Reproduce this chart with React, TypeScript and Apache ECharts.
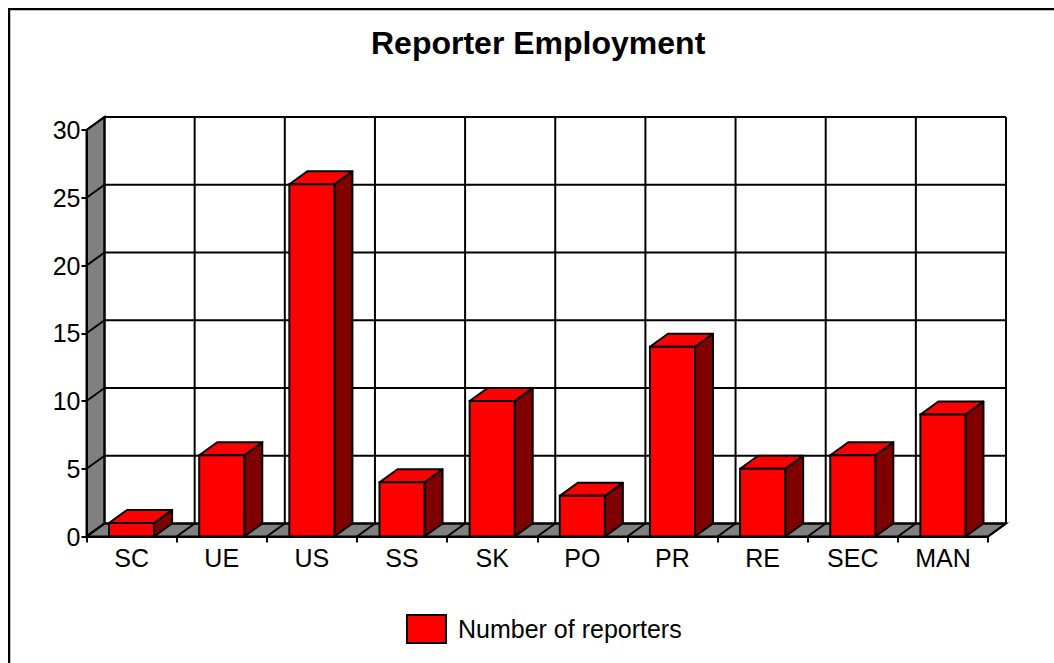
import React, { useEffect, useRef } from "react";
import * as echarts from "echarts";

const titleText = "Reporter Employment";
const seriesName = "Number of reporters";
const categories = ["SC", "UE", "US", "SS", "SK", "PO", "PR", "RE", "SEC", "MAN"];
const reporters = [1, 6, 26, 4, 10, 3, 14, 5, 6, 9];
const yTicks = [0, 5, 10, 15, 20, 25, 30];
const boundaries = [0, 1, 2, 3, 4, 5, 6, 7, 8, 9, 10];

const DX = 18;
const DY = -13;
const FONT = "'Liberation Sans', Arial, Helvetica, sans-serif";
const LW = 2;

export default function App() {
  const ref = useRef<HTMLDivElement>(null);

  useEffect(() => {
    if (!ref.current) return;
    const chart = echarts.init(ref.current, undefined, { renderer: "svg" });
    const yMax = yTicks[yTicks.length - 1];

    const frame = (api: any) => {
      const band = api.size([1, 0])[0];
      const x0 = api.coord([0, 0])[0] - band / 2;
      const x1 = x0 + band * categories.length;
      const yBot = api.coord([0, 0])[1];
      const yTop = api.coord([0, yMax])[1];
      return { band, x0, x1, yBot, yTop };
    };

    const option: any = {
      animation: false,
      backgroundColor: "#fff",
      title: {
        text: titleText,
        left: 363,
        top: 19,
        padding: 0,
        textStyle: { fontFamily: FONT, fontSize: 32, fontWeight: "bold", color: "#000" },
      },
      legend: {
        data: [seriesName],
        left: 398,
        top: 606,
        padding: 0,
        itemWidth: 39,
        itemHeight: 28,
        icon: "rect",
        itemStyle: { color: "#FF0000", borderColor: "#000", borderWidth: LW },
        textStyle: { fontFamily: FONT, fontSize: 25, color: "#000", padding: [0, 0, 0, 7] },
      },
      grid: { left: 78.5, top: 122, width: 901.5, height: 406.5, containLabel: false },
      xAxis: {
        type: "category",
        data: categories,
        boundaryGap: true,
        z: 10,
        axisLine: { show: true, lineStyle: { color: "#000", width: LW } },
        axisTick: { show: true, length: 6, lineStyle: { color: "#000", width: LW } },
        axisLabel: { fontFamily: FONT, fontSize: 25, color: "#000", margin: 9 },
        splitLine: { show: false },
      },
      yAxis: {
        type: "value",
        min: 0,
        max: yMax,
        interval: 5,
        z: 10,
        axisLine: { show: true, lineStyle: { color: "#000", width: LW } },
        axisTick: { show: true, length: 5, lineStyle: { color: "#000", width: LW } },
        axisLabel: { fontFamily: FONT, fontSize: 25, color: "#000", margin: 6 },
        splitLine: { show: false },
      },
      graphic: [
        { type: "line", shape: { x1: 1, y1: 0, x2: 1, y2: 655 }, style: { stroke: "#000", lineWidth: 2.5 } },
        { type: "line", shape: { x1: 0, y1: 1, x2: 1046, y2: 1 }, style: { stroke: "#000", lineWidth: 2.5 } },
      ],
      series: [
        {
          type: "custom",
          name: "walls",
          z: 1,
          silent: true,
          data: [[0, 0]],
          renderItem: (params: any, api: any) => {
            const f = frame(api);
            return {
              type: "group",
              children: [
                {
                  type: "polygon",
                  shape: {
                    points: [
                      [f.x0, f.yBot],
                      [f.x0, f.yTop],
                      [f.x0 + DX, f.yTop + DY],
                      [f.x0 + DX, f.yBot + DY],
                    ],
                  },
                  style: { fill: "#808080", stroke: "#000", lineWidth: LW },
                },
                {
                  type: "polygon",
                  shape: {
                    points: [
                      [f.x0, f.yBot],
                      [f.x1, f.yBot],
                      [f.x1 + DX, f.yBot + DY],
                      [f.x0 + DX, f.yBot + DY],
                    ],
                  },
                  style: { fill: "#808080", stroke: "#000", lineWidth: LW },
                },
              ],
            };
          },
        },
        {
          type: "custom",
          name: "hlines",
          z: 2,
          silent: true,
          data: yTicks.map((v) => [0, v]),
          renderItem: (params: any, api: any) => {
            const f = frame(api);
            const y = api.coord([0, api.value(1)])[1];
            return {
              type: "group",
              children: [
                {
                  type: "line",
                  shape: { x1: f.x0 + DX, y1: y + DY, x2: f.x1 + DX, y2: y + DY },
                  style: { stroke: "#000", lineWidth: LW },
                },
                {
                  type: "line",
                  shape: { x1: f.x0, y1: y, x2: f.x0 + DX, y2: y + DY },
                  style: { stroke: "#000", lineWidth: LW },
                },
              ],
            };
          },
        },
        {
          type: "custom",
          name: "vlines",
          z: 2,
          silent: true,
          data: boundaries.map((b) => [0, 0, b]),
          encode: { x: 0, y: 1 },
          renderItem: (params: any, api: any) => {
            const f = frame(api);
            const x = f.x0 + f.band * api.value(2);
            return {
              type: "group",
              children: [
                {
                  type: "line",
                  shape: { x1: x + DX, y1: f.yBot + DY, x2: x + DX, y2: f.yTop + DY },
                  style: { stroke: "#000", lineWidth: LW },
                },
                {
                  type: "line",
                  shape: { x1: x, y1: f.yBot, x2: x + DX, y2: f.yBot + DY },
                  style: { stroke: "#000", lineWidth: LW },
                },
              ],
            };
          },
        },
        {
          type: "custom",
          name: seriesName,
          z: 3,
          itemStyle: { color: "#FF0000", borderColor: "#000", borderWidth: LW },
          data: reporters.map((v, i) => [i, v]),
          renderItem: (params: any, api: any) => {
            const i = api.value(0);
            const v = api.value(1);
            const [cx, yt] = api.coord([i, v]);
            const yb = api.coord([i, 0])[1];
            const band = api.size([1, 0])[0];
            const w = band * 0.5;
            const xl = cx - w / 2;
            const xr = cx + w / 2;
            return {
              type: "group",
              children: [
                {
                  type: "polygon",
                  shape: { points: [[xr, yt], [xr + DX, yt + DY], [xr + DX, yb + DY], [xr, yb]] },
                  style: { fill: "#800000", stroke: "#000", lineWidth: LW, lineJoin: "round" },
                },
                {
                  type: "polygon",
                  shape: { points: [[xl, yt], [xr, yt], [xr + DX, yt + DY], [xl + DX, yt + DY]] },
                  style: { fill: "#FF0000", stroke: "#000", lineWidth: LW, lineJoin: "round" },
                },
                {
                  type: "rect",
                  shape: { x: xl, y: yt, width: w, height: yb - yt },
                  style: { fill: "#FF0000", stroke: "#000", lineWidth: LW },
                },
              ],
            };
          },
        },
      ],
    };

    chart.setOption(option);
    return () => chart.dispose();
  }, []);

  return (
    <div
      ref={ref}
      style={{ position: "fixed", left: 8, top: 8, width: 1046, height: 655 }}
    />
  );
}
